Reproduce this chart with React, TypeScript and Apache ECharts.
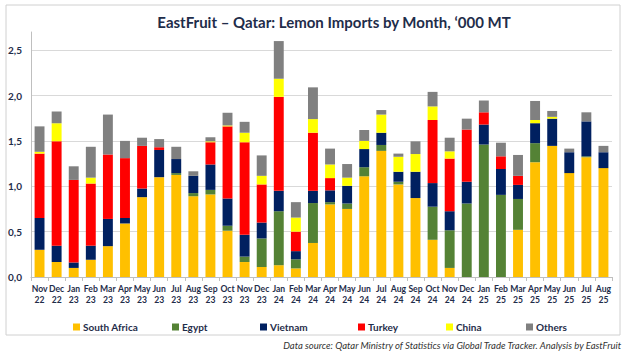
import React, { useEffect, useRef } from "react";
import * as echarts from "echarts";

const categories = [
  "Nov\n22", "Dec\n22", "Jan\n23", "Feb\n23", "Mar\n23", "Apr\n23", "May\n23", "Jun\n23", "Jul\n23", "Aug\n23", "Sep\n23", "Oct\n23",
  "Nov\n23", "Dec\n23", "Jan\n24", "Feb\n24", "Mar\n24", "Apr\n24", "May\n24", "Jun\n24", "Jul\n24", "Aug\n24", "Sep\n24", "Oct\n24",
  "Nov\n24", "Dec\n24", "Jan\n25", "Feb\n25", "Mar\n25", "Apr\n25", "May\n25", "Jun\n25", "Jul\n25", "Aug\n25",
];

const southAfrica = [0.30, 0.165, 0.10, 0.19, 0.34, 0.59, 0.88, 1.10, 1.125, 0.89, 0.91, 0.51, 0.165, 0.11, 0.13, 0.095, 0.375, 0.80, 0.75, 1.11, 1.39, 1.02, 0.87, 0.41, 0.10, 0, 0, 0, 0.52, 1.265, 1.445, 1.145, 1.32, 1.20];
const egypt = [0, 0, 0, 0, 0, 0, 0, 0, 0.02, 0.035, 0.05, 0.055, 0.06, 0.315, 0.595, 0.10, 0.44, 0.025, 0.06, 0.10, 0.065, 0.03, 0, 0.365, 0.415, 0.81, 1.46, 0.905, 0.34, 0.21, 0, 0, 0.01, 0];
const vietnam = [0.35, 0.18, 0.06, 0.155, 0.30, 0.06, 0.095, 0.30, 0.155, 0.19, 0.28, 0.30, 0.24, 0.175, 0.225, 0.09, 0.135, 0.13, 0.195, 0.20, 0.135, 0.11, 0.29, 0.26, 0.21, 0.24, 0.22, 0.285, 0.155, 0.22, 0.30, 0.23, 0.385, 0.175];
const turkey = [0.71, 1.15, 0.91, 0.685, 0.71, 0.66, 0.47, 0.03, 0, 0, 0.245, 0.795, 1.02, 0.42, 1.035, 0.215, 0.64, 0.135, 0, 0, 0, 0, 0, 0.695, 0.58, 0.575, 0.135, 0.14, 0.10, 0, 0, 0, 0, 0];
const china = [0.02, 0.20, 0, 0.065, 0, 0, 0, 0, 0, 0, 0.01, 0.01, 0.105, 0.095, 0.20, 0.155, 0.15, 0.15, 0.09, 0.09, 0.20, 0.165, 0.195, 0.15, 0.08, 0, 0, 0, 0, 0.035, 0.02, 0, 0, 0];
const others = [0.28, 0.13, 0.15, 0.34, 0.44, 0.19, 0.09, 0.09, 0.135, 0.05, 0.045, 0.14, 0.12, 0.225, 0.415, 0.17, 0.35, 0.175, 0.15, 0.12, 0.05, 0.035, 0.14, 0.16, 0.15, 0.12, 0.13, 0.15, 0.23, 0.21, 0.065, 0.04, 0.10, 0.07];

const seriesNames = ["South Africa", "Egypt", "Vietnam", "Turkey", "China", "Others"];
const seriesData = [southAfrica, egypt, vietnam, turkey, china, others];
const seriesColors = ["#FFC000", "#548235", "#002060", "#FF0000", "#FFFF00", "#808080"];
const legendLefts = [68, 167, 255, 353, 441, 521];

const FONT = "Lato, 'Open Sans', sans-serif";
const TEXT = "#1F2D4A";

export default function App() {
  const ref = useRef<HTMLDivElement>(null);
  useEffect(() => {
    if (!ref.current) return;
    const chart = echarts.init(ref.current, null, { renderer: "svg" });
    chart.setOption({
      animation: false,
      backgroundColor: "#ffffff",
      textStyle: { fontFamily: FONT },
      title: {
        text: "EastFruit – Qatar: Lemon Imports by Month, ‘000 MT",
        left: 329,
        top: 9,
        textAlign: "center",
        textStyle: { fontSize: 15, fontWeight: "bold", color: TEXT, fontFamily: FONT },
      },
      grid: { left: 31, right: 14, top: 32, bottom: 75, containLabel: false },
      legend: seriesNames.map((n, i) => ({
        data: [n],
        left: legendLefts[i],
        top: 317,
        itemWidth: 7,
        itemHeight: 7,
        itemGap: 0,
        icon: "rect",
        selectedMode: false,
        textStyle: { fontSize: 10, fontWeight: "bold", color: TEXT, fontFamily: FONT, padding: [0, 0, 0, -2] },
      })),
      xAxis: {
        type: "category",
        data: categories,
        axisLine: { show: true, lineStyle: { color: "#BFBFBF", width: 1 } },
        axisTick: { show: true, length: 4, lineStyle: { color: "#BFBFBF" } },
        axisLabel: {
          interval: 0,
          margin: 6,
          fontSize: 8.6,
          fontWeight: "bold",
          color: TEXT,
          lineHeight: 11,
          fontFamily: FONT,
        },
      },
      yAxis: {
        type: "value",
        min: 0,
        max: 2.7,
        interval: 0.5,
        axisLine: { show: true, lineStyle: { color: "#BFBFBF", width: 1 } },
        axisTick: { show: false },
        splitLine: { show: true, showMaxLine: false, lineStyle: { color: "#D9D9D9", width: 1 } },
        axisLabel: {
          showMaxLabel: false,
          margin: 9,
          fontSize: 10,
          fontWeight: "bold",
          color: TEXT,
          fontFamily: FONT,
          formatter: (v: number) => v.toFixed(1).replace(".", ","),
        },
      },
      series: seriesNames.map((n, i) => ({
        name: n,
        type: "bar",
        stack: "total",
        data: seriesData[i],
        barWidth: "58%",
        itemStyle: { color: seriesColors[i] },
      })),
      graphic: [
        {
          type: "rect",
          shape: { x: 6, y: 5, width: 614, height: 330 },
          style: { fill: "none", stroke: "#D0D0D0", lineWidth: 1 },
          silent: true,
          z: -1,
        },
        {
          type: "text",
          x: 621,
          y: 345,
          style: {
            text: "Data source: Qatar Ministry of Statistics via Global Trade Tracker. Analysis by EastFruit",
            align: "right",
            verticalAlign: "middle",
            fontSize: 9.5,
            fontStyle: "italic",
            fontFamily: FONT,
            fill: "#333333",
          },
          silent: true,
        },
      ],
    });
    return () => chart.dispose();
  }, []);
  return <div ref={ref} style={{ position: "fixed", left: 0, top: 0, width: 626, height: 352 }} />;
}
